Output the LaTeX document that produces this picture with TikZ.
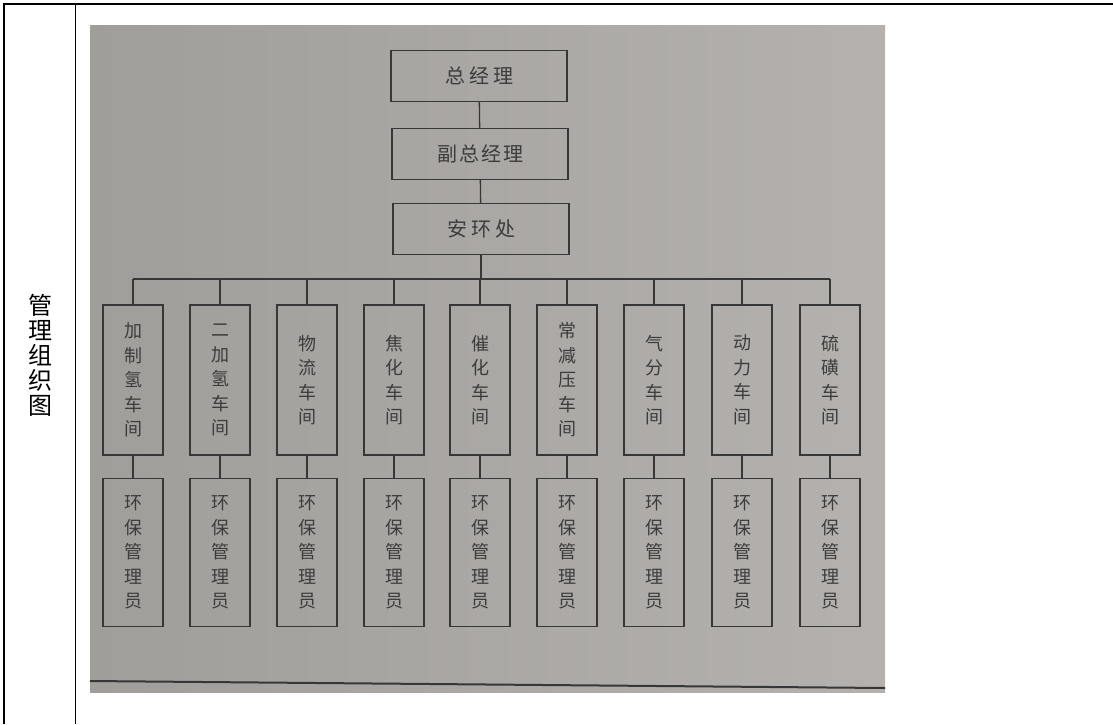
\documentclass[tikz,border=0pt]{standalone}
\usepackage{fontspec}
\setmainfont{Noto Sans CJK SC}
\usepackage{tikz}
\usetikzlibrary{positioning}
\definecolor{photoleft}{RGB}{160,158,155}
\definecolor{photoright}{RGB}{180,177,174}
\definecolor{inkline}{RGB}{55,55,55}
\definecolor{inktext}{RGB}{60,60,60}

\begin{document}
\begin{tikzpicture}[x=1pt,y=-1pt,
			box/.style={draw=inkline, line width=1.3pt, text=inktext, inner sep=0pt},
			topbox/.style={box, minimum width=176pt, minimum height=51pt, font=\fontsize{20}{22}\selectfont},
			shopbox/.style={box, minimum width=60pt, minimum height=150pt, align=center, font=\fontsize{18}{24.5}\selectfont},
			staffbox/.style={shopbox, minimum height=148pt},
			link/.style={draw=inkline, line width=1.3pt}
		]
		\useasboundingbox (0,0) rectangle (1113,724);

		% table frame and label
		\draw[line width=1.5pt] (4,724) -- (4,4) -- (1113,4);
		\draw[line width=1pt] (75,4) -- (75,724);
		\node[align=center, font=\fontsize{24}{25}\selectfont] (label) at (40,355) {管\\理\\组\\织\\图};

		% photo
		\shade[left color=photoleft, right color=photoright] (90,25) rectangle (885,692);
		\draw[inkline, line width=2pt] (90,681) -- (885,688);

		\node[topbox] (gm) at (479,76) {总\hspace{4pt}经\hspace{4pt}理};
		\node[topbox] (vgm) at (480,154) {副\hspace{2pt}总\hspace{2pt}经\hspace{2pt}理};
		\node[topbox] (ahc) at (481,229) {安\hspace{4pt}环\hspace{4pt}处};
		\coordinate (bus) at (481,279);

		\node[shopbox] (w1) at (133,380) {加\\制\\氢\\车\\间};
		\node[shopbox] (w2) at (220,380) {二\\加\\氢\\车\\间};
		\node[shopbox] (w3) at (307,380) {物\\流\\车\\间};
		\node[shopbox] (w4) at (394,380) {焦\\化\\车\\间};
		\node[shopbox] (w5) at (480,380) {催\\化\\车\\间};
		\node[shopbox] (w6) at (567,380) {常\\减\\压\\车\\间};
		\node[shopbox] (w7) at (654,380) {气\\分\\车\\间};
		\node[shopbox] (w8) at (742,380) {动\\力\\车\\间};
		\node[shopbox] (w9) at (830,380) {硫\\磺\\车\\间};

		\foreach \i in {1,...,9} {
			\node[staffbox, below=22pt of w\i] (e\i) {环\\保\\管\\理\\员};
			\draw[link] (w\i.south) -- (e\i.north);
			\draw[link] (w\i.north) -- (w\i.north |- bus);
		}

		\draw[link] (gm) -- (vgm);
		\draw[link] (vgm) -- (ahc);
		\draw[link] (ahc) -- (bus);
		\draw[link] (w1.north |- bus) -- (w9.north |- bus);
	\end{tikzpicture}
\end{document}
